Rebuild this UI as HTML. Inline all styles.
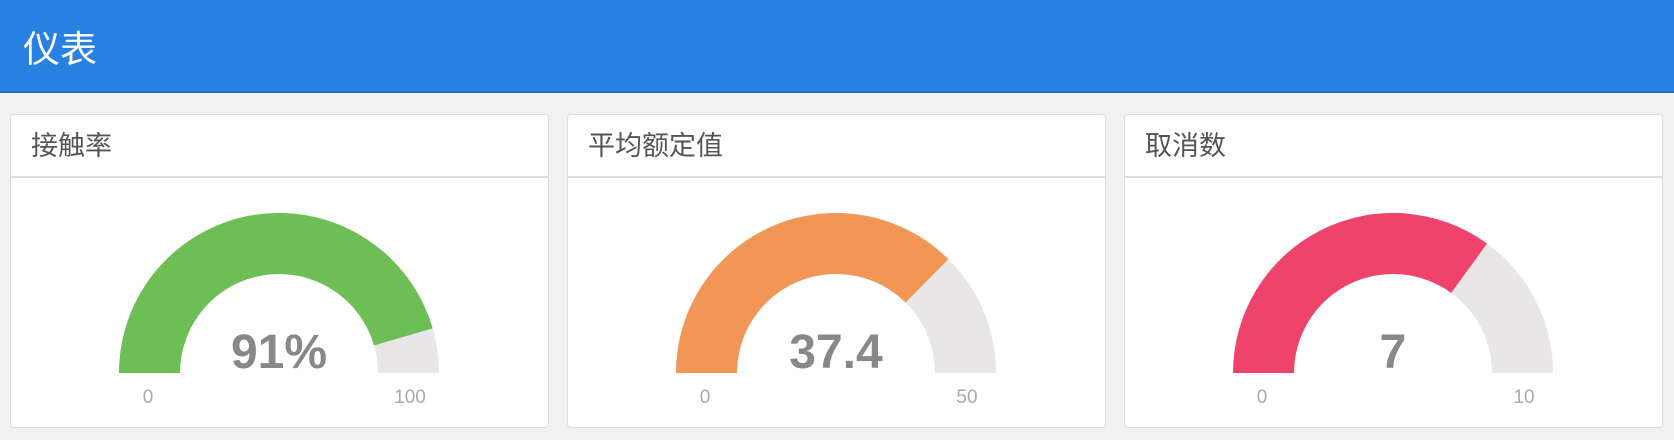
<!DOCTYPE html>
<html><head><meta charset="utf-8"><style>
body{margin:0;width:1674px;height:440px;background:#f1f1f1;font-family:"Liberation Sans","Noto Sans CJK SC",sans-serif;overflow:hidden;position:relative}
#hdr{position:absolute;left:0;top:0;width:1674px;height:91px;background:#2880e2;border-bottom:2px solid #1f6cc4}
#hdr span{position:absolute;left:23px;top:19px;font-size:37px;color:#fff}
.card{position:absolute;top:114px;width:537px;height:312px;background:#fff;border:1px solid #ddd;border-radius:4px}
.card .t{height:61px;border-bottom:2px solid #ddd;font-size:27px;color:#555;line-height:62px;padding-left:20px}
svg{position:absolute;left:0;top:0}
</style></head><body>
<div id="hdr"><span>仪表</span></div>
<div class="card" style="left:10px"><div class="t">接触率</div></div>
<div class="card" style="left:567px"><div class="t">平均额定值</div></div>
<div class="card" style="left:1124px"><div class="t">取消数</div></div>
<svg id="g" width="1674" height="440"></svg>
<script>
const values=[91,37.4,7];
const maxes=[100,50,10];
const labels=["91%","37.4","7"];
const centers=[279,836,1393];
const colors=["#6dbf55","#f29656","#f0436c"];
const NS="http://www.w3.org/2000/svg";
const svg=document.getElementById('g');
const cy=373,R=160,r=99;
function pt(cx,rad,f){const a=Math.PI*(1-f);return [cx+rad*Math.cos(a),cy-rad*Math.sin(a)];}
function arc(cx,f0,f1){const a=pt(cx,R,f0),b=pt(cx,R,f1),c=pt(cx,r,f1),d=pt(cx,r,f0);
return `M${a[0]},${a[1]} A${R},${R} 0 0 1 ${b[0]},${b[1]} L${c[0]},${c[1]} A${r},${r} 0 0 0 ${d[0]},${d[1]}Z`;}
function mk(tag,attrs){const e=document.createElementNS(NS,tag);for(const k in attrs)e.setAttribute(k,attrs[k]);svg.appendChild(e);return e;}
values.forEach((v,i)=>{
 const cx=centers[i],f=v/maxes[i];
 const bg=mk('path',{d:arc(cx,0,1),fill:'#e8e6e6'});
 
 
 const fg=mk('path',{d:arc(cx,0,f),fill:colors[i]});
 
 
 const t=mk('text',{x:cx,y:368,'text-anchor':'middle','font-size':48,'font-weight':'bold',fill:'#888','font-family':'Liberation Sans,sans-serif'});
 t.textContent=labels[i];
 
 
 const l0=mk('text',{x:cx-131,y:403,'text-anchor':'middle','font-size':19,fill:'#aaa','font-family':'Liberation Sans,sans-serif'});
 l0.textContent='0';
 
 
 const l1=mk('text',{x:cx+131,y:403,'text-anchor':'middle','font-size':19,fill:'#aaa','font-family':'Liberation Sans,sans-serif'});
 l1.textContent=String(maxes[i]);
 
 
});
</script>
</body></html>
